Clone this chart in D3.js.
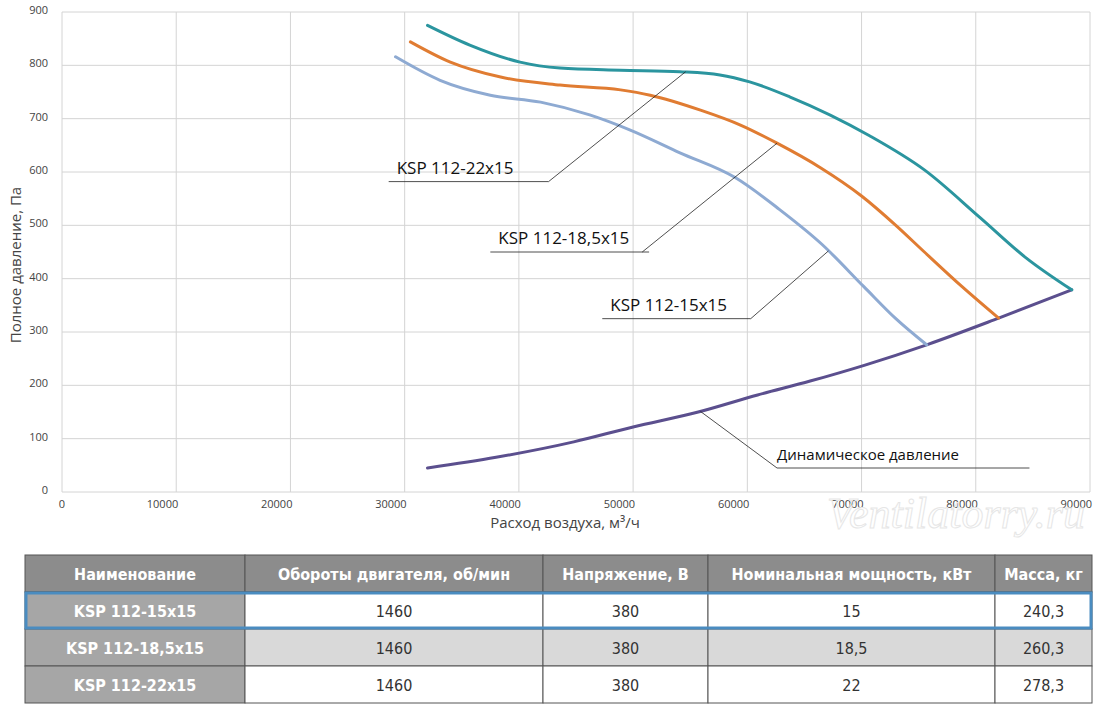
<!DOCTYPE html>
<html><head><meta charset="utf-8">
<script src="https://cdn.jsdelivr.net/npm/d3@7"></script>
<style>body{margin:0;background:#fff}</style>
</head><body>
<script>
// curves: [airflow m3/h, pressure Pa]
var curve22 = [[32000,875],[35700,838],[40100,806],[43600,795],[48900,791],[54100,788],[57600,782],[60200,769],[63700,741],[70700,668],[75500,604],[80400,514],[84400,439],[88400,379]];
var curve185 = [[30500,844],[34000,806],[38400,778],[43600,763],[48900,754],[51500,744],[55900,716],[59400,688],[62600,654],[66400,608],[70000,555],[73000,500],[75500,450],[78800,385],[82000,326]];
var curve15 = [[29200,816],[33100,772],[37500,744],[41900,731],[46200,707],[49700,679],[54100,636],[58900,590],[62800,530],[66500,465],[70200,385],[73000,325],[75700,276]];
var curveDyn = [[32000,45],[38000,65],[44800,94],[50000,122],[55700,150],[60900,182],[65500,208],[70300,238],[75700,276],[82000,326],[88400,379]];
var xTicks = [0,10000,20000,30000,40000,50000,60000,70000,80000,90000];
var yTicks = [0,100,200,300,400,500,600,700,800,900];
// annotations: label, point on curve [x,y], label anchor [x,y] (data units)
var labels = ["KSP 112-22x15","KSP 112-18,5x15","KSP 112-15x15","Динамическое давление"];
var labelTargets = [[54600,788],[62600,654],[67100,452],[55900,151]];
var labelAnchors = [[42600,582],[50800,450],[60300,325],[62600,45]];
var labelStarts = [[28600,582],[37500,450],[47300,325],[62600,45]];
var labelEnds = [[42600,582],[51400,450],[60300,325],[84700,45]];

var tableHead = ["Наименование","Обороты двигателя, об/мин","Напряжение, В","Номинальная мощность, кВт","Масса, кг"];
var tableRows = [["KSP 112-15x15","1460","380","15","240,3"],["KSP 112-18,5x15","1460","380","18,5","260,3"],["KSP 112-22x15","1460","380","22","278,3"]];

var W = 1100, H = 709;
var svg = d3.select("body").append("svg").attr("width", W).attr("height", H)
  .style("font-family", "'Open Sans', sans-serif");

var x = d3.scaleLinear().domain([0, 90000]).range([62, 1090]);
var y = d3.scaleLinear().domain([0, 900]).range([492, 12]);

// grid
svg.selectAll(".vg").data(xTicks).enter().append("line")
  .attr("x1", d => x(d)).attr("x2", d => x(d)).attr("y1", y(0)).attr("y2", y(900))
  .attr("stroke", "#d4d4d4").attr("stroke-width", 1);
svg.selectAll(".hg").data(yTicks).enter().append("line")
  .attr("x1", x(0)).attr("x2", x(90000)).attr("y1", d => y(d)).attr("y2", d => y(d))
  .attr("stroke", "#d4d4d4").attr("stroke-width", 1);

svg.selectAll(".xt").data(xTicks).enter().append("text")
  .attr("x", d => d === 0 ? x(d) : x(d) + 2).attr("y", 508)
  .attr("text-anchor", d => d === 0 ? "middle" : "end")
  .attr("font-size", 11).attr("fill", "#444").text(d => d);
svg.selectAll(".yt").data(yTicks).enter().append("text")
  .attr("x", 48).attr("y", d => y(d) + 2)
  .attr("text-anchor", "end").attr("font-size", 11).attr("fill", "#444").text(d => d);

svg.append("text").attr("x", 565).attr("y", 528).attr("text-anchor", "middle")
  .attr("font-size", 15).attr("fill", "#444").text("Расход воздуха, м³/ч");
svg.append("text").attr("transform", "translate(21,265) rotate(-90)").attr("text-anchor", "middle")
  .attr("font-size", 15).attr("fill", "#444").text("Полное давление, Па");

// watermark
svg.append("text").attr("x", 1085).attr("y", 528).attr("text-anchor", "end")
  .attr("font-size", 44).attr("font-style", "italic").attr("font-family", "'Liberation Serif', serif")
  .attr("fill", "none").attr("stroke", "#e6e6e6").attr("stroke-width", 1).text("Ventilatorry.ru");

var line = d3.line().x(d => x(d[0])).y(d => y(d[1])).curve(d3.curveMonotoneX);
[[curveDyn, "#5b4f8e"], [curve15, "#8eaad2"], [curve185, "#e07c32"], [curve22, "#2b959f"]].forEach(function (c) {
  svg.append("path").attr("d", line(c[0])).attr("fill", "none")
    .attr("stroke", c[1]).attr("stroke-width", 3).attr("stroke-linecap", "round");
});

// annotations
labels.forEach(function (t, i) {
  svg.append("line").attr("x1", x(labelTargets[i][0])).attr("y1", y(labelTargets[i][1]))
    .attr("x2", x(labelAnchors[i][0])).attr("y2", y(labelAnchors[i][1])).attr("stroke", "#222").attr("stroke-width", 0.8);
  svg.append("line").attr("x1", x(labelStarts[i][0])).attr("y1", y(labelStarts[i][1]))
    .attr("x2", x(labelEnds[i][0])).attr("y2", y(labelEnds[i][1])).attr("stroke", "#222").attr("stroke-width", 0.8);
  svg.append("text").attr("x", x(labelStarts[i][0]) + (i === 3 ? 0 : 8)).attr("y", y(labelStarts[i][1]) - 8)
    .attr("font-size", i === 3 ? 15 : 17).attr("fill", "#111").text(t);
});

// table
var cols = [25, 245, 543, 708, 995, 1092];
var rowY = [555, 592, 629, 666, 703];
var tf = "'DejaVu Sans Condensed', 'Open Sans', sans-serif";
var tbl = svg.append("g").style("font-family", tf);
for (var r = 0; r < 4; r++) {
  for (var c = 0; c < 5; c++) {
    var head = r === 0, first = c === 0;
    var fill = head ? "#8c8c8c" : first ? "#a6a6a6" : (r === 2 ? "#d9d9d9" : "#fff");
    tbl.append("rect").attr("x", cols[c]).attr("y", rowY[r]).attr("width", cols[c + 1] - cols[c])
      .attr("height", rowY[r + 1] - rowY[r]).attr("fill", fill).attr("stroke", "#555").attr("stroke-width", 1);
    var txt = head ? tableHead[c] : tableRows[r - 1][c];
    tbl.append("text").attr("x", (cols[c] + cols[c + 1]) / 2).attr("y", (rowY[r] + rowY[r + 1]) / 2 + 6)
      .attr("text-anchor", "middle").attr("font-size", 16)
      .attr("font-weight", head || first ? "bold" : "normal")
      .attr("fill", head || first ? "#fff" : "#333").text(txt);
  }
}
tbl.append("rect").attr("x", 26).attr("y", 593).attr("width", 1065).attr("height", 35)
  .attr("fill", "none").attr("stroke", "#4a8cc0").attr("stroke-width", 3);
</script>
</body></html>
